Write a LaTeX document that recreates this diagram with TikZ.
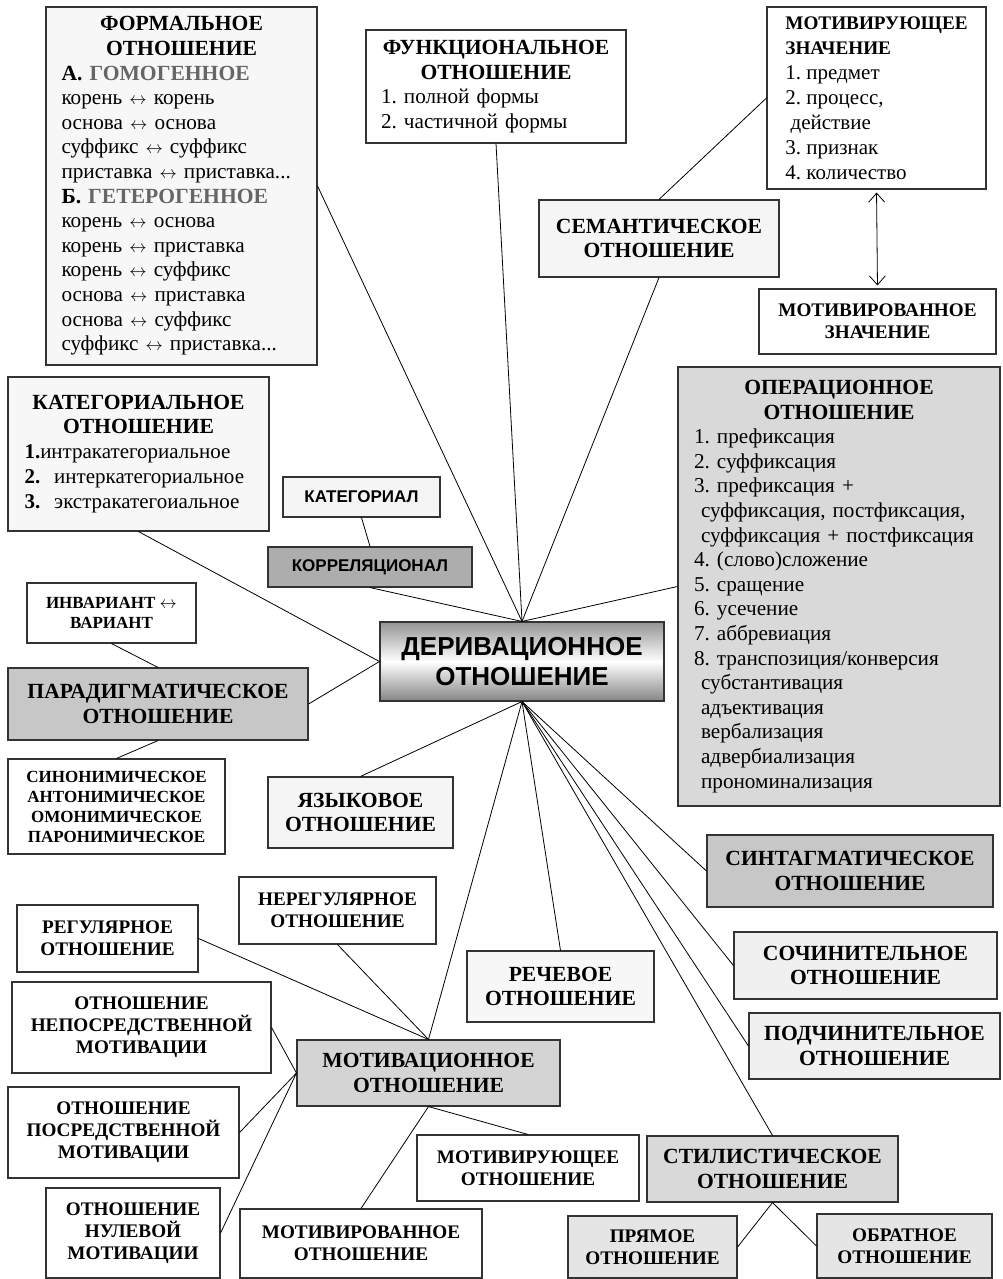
\documentclass[tikz,border=0pt]{standalone}
\usepackage{fontspec}
\setmainfont{Liberation Serif}
\setsansfont{Liberation Sans}
\usepackage{tikz}
\usetikzlibrary{arrows.meta}
\usetikzlibrary{positioning}

\newcommand{\bigh}{\fontsize{21.6}{24.6}\selectfont\bfseries}
\newcommand{\smallh}{\fontsize{19.2}{22}\selectfont\bfseries}
\newcommand{\tinyh}{\fontsize{17}{20}\selectfont\bfseries}
\newcommand{\itemtxt}{\fontsize{21.2}{24.6}\selectfont}
\newcommand{\grayh}[1]{\textcolor{black!60}{#1}}
\newcommand{\lra}{{\fontsize{17.28}{17.28}\selectfont$\leftrightarrow$}}
\frenchspacing

\begin{document}
\begin{tikzpicture}[x=1pt, y=-1pt,
    rel/.style={draw=black!80, line width=1.1pt, align=center, inner sep=0pt},
    list/.style={rel, align=left},
    link/.style={black, line width=0.8pt}]
    \useasboundingbox (0,0) rectangle (1002,1279);

    % Central node
    \node[rel, top color=black!42, bottom color=black!48, middle color=white, minimum width=284pt, minimum height=79pt, font={\sffamily\bfseries\fontsize{26}{30}\selectfont}] (deriv) at (522,661.5) {ДЕРИВАЦИОННОЕ\\ОТНОШЕНИЕ};

    % Upper part
    \node[list, fill=black!3, minimum width=271pt, minimum height=358pt, text width=240pt, font=\itemtxt] (formal) at (181.5,186) {%
        {\centering\bigh ФОРМАЛЬНОЕ\par ОТНОШЕНИЕ\par}
        {\bigh А. \grayh{ГОМОГЕННОЕ}\par}
        корень \lra{} корень\par
        основа \lra{} основа\par
        суффикс \lra{} суффикс\par
        приставка \lra{} приставка...\par
        {\bigh Б. \grayh{ГЕТЕРОГЕННОЕ}\par}
        корень \lra{} основа\par
        корень \lra{} приставка\par
        корень \lra{} суффикс\par
        основа \lra{} приставка\par
        основа \lra{} суффикс\par
        суффикс \lra{} приставка...};
    \node[list, fill=white, minimum width=260pt, minimum height=113pt, text width=230pt, font=\itemtxt] (func) at (496,86.5) {%
        {\centering\bigh ФУНКЦИОНАЛЬНОЕ\par ОТНОШЕНИЕ\par}
        1. полной формы\par
        2. частичной формы};
    \node[list, fill=white, minimum width=219pt, minimum height=182pt, font={\fontsize{21}{25}\selectfont}] (motvaz) at (876.5,98) {%
        {\smallh МОТИВИРУЮЩЕЕ}\\
        {\smallh ЗНАЧЕНИЕ}\\
        1. предмет\\
        2. процесс,\\
        \ действие\\
        3. признак\\
        4. количество};
    \node[rel, fill=black!4, minimum width=240pt, minimum height=77pt, font=\bigh] (sem) at (659,238.5) {СЕМАНТИЧЕСКОЕ\\ОТНОШЕНИЕ};
    \node[rel, fill=white, minimum width=237pt, minimum height=65pt, font=\smallh] (motvdm) at (877.5,321.5) {МОТИВИРОВАННОЕ\\ЗНАЧЕНИЕ};
    \draw[{Straight Barb[length=9pt,width=16pt]}-{Straight Barb[length=9pt,width=16pt]}, line width=0.8pt, shorten <=3pt, shorten >=3pt] (motvaz.south) -- (motvdm.north);
    \node[list, fill=black!15, minimum width=322pt, minimum height=439pt, text width=290pt, font=\itemtxt] (oper) at (839,586.5) {%
        {\centering\bigh ОПЕРАЦИОННОЕ\par ОТНОШЕНИЕ\par}
        1. префиксация\par
        2. суффиксация\par
        3. префиксация +\par
        \ суффиксация, постфиксация,\par
        \ суффиксация + постфиксация\par
        4. (слово)сложение\par
        5. сращение\par
        6. усечение\par
        7. аббревиация\par
        8. транспозиция/конверсия\par
        \ субстантивация\par
        \ адъективация\par
        \ вербализация\par
        \ адвербиализация\par
        \ прономинализация};

    % Left part
    \node[list, fill=black!3, minimum width=261pt, minimum height=154pt, text width=228pt, font={\fontsize{21}{25}\selectfont}] (categ) at (138.5,454) {%
        {\centering\bigh КАТЕГОРИАЛЬНОЕ\par ОТНОШЕНИЕ\par}
        \textbf{1.}интракатегориальное\par
        \textbf{2.} \ интеркатегориальное\par
        \textbf{3.} \ экстракатегоиальное};
    \node[rel, fill=black!4, minimum width=157pt, minimum height=40pt, font={\sffamily\bfseries\fontsize{17}{20}\selectfont}] (kategorial) at (361.5,497) {КАТЕГОРИАЛ};
    \node[rel, fill=black!32, minimum width=204pt, minimum height=40pt, font={\sffamily\bfseries\fontsize{17}{20}\selectfont}] (korrel) at (370,567) {КОРРЕЛЯЦИОНАЛ};
    \node[rel, fill=white, minimum width=169pt, minimum height=60pt, font=\tinyh] (invar) at (111.5,613) {ИНВАРИАНТ \lra\\ВАРИАНТ};
    \node[rel, fill=black!22, minimum width=300pt, minimum height=72pt, font=\bigh] (parad) at (158,704) {ПАРАДИГМАТИЧЕСКОЕ\\ОТНОШЕНИЕ};
    \node[rel, fill=white, minimum width=217pt, minimum height=95pt, font=\tinyh] (synon) at (116.5,806.5) {СИНОНИМИЧЕСКОЕ\\АНТОНИМИЧЕСКОЕ\\ОМОНИМИЧЕСКОЕ\\ПАРОНИМИЧЕСКОЕ};
    \node[rel, fill=black!4, minimum width=185pt, minimum height=71pt, font=\bigh] (yaz) at (360.5,812.5) {ЯЗЫКОВОЕ\\ОТНОШЕНИЕ};

    % Lower part
    \node[rel, fill=white, minimum width=197pt, minimum height=67pt, font=\smallh] (nereg) at (337.5,910.5) {НЕРЕГУЛЯРНОЕ\\ОТНОШЕНИЕ};
    \node[rel, fill=white, minimum width=181pt, minimum height=67pt, font=\smallh] (reg) at (107.5,938.5) {РЕГУЛЯРНОЕ\\ОТНОШЕНИЕ};
    \node[rel, fill=white, minimum width=259pt, minimum height=91pt, font=\smallh] (neposr) at (141.5,1027.5) {ОТНОШЕНИЕ\\НЕПОСРЕДСТВЕННОЙ\\МОТИВАЦИИ};
    \node[rel, fill=white, minimum width=231pt, minimum height=91pt, font=\smallh] (posr) at (123.5,1132.5) {ОТНОШЕНИЕ\\ПОСРЕДСТВЕННОЙ\\МОТИВАЦИИ};
    \node[rel, fill=white, minimum width=174pt, minimum height=90pt, font=\smallh] (nul) at (133,1233) {ОТНОШЕНИЕ\\НУЛЕВОЙ\\МОТИВАЦИИ};
    \node[rel, fill=black!17, minimum width=263pt, minimum height=66pt, font=\bigh] (motiv) at (428.5,1073) {МОТИВАЦИОННОЕ\\ОТНОШЕНИЕ};
    \node[rel, fill=white, minimum width=242pt, minimum height=69pt, font=\smallh] (motvdrel) at (361,1243.5) {МОТИВИРОВАННОЕ\\ОТНОШЕНИЕ};
    \node[rel, fill=white, minimum width=222pt, minimum height=66pt, font=\smallh] (motvrel) at (528,1168) {МОТИВИРУЮЩЕЕ\\ОТНОШЕНИЕ};
    \node[rel, fill=black!3, minimum width=187pt, minimum height=71pt, font=\bigh] (rech) at (560.5,986.5) {РЕЧЕВОЕ\\ОТНОШЕНИЕ};

    % Right lower part
    \node[rel, fill=black!22, minimum width=286pt, minimum height=72pt, font=\bigh] (sint) at (850,871) {СИНТАГМАТИЧЕСКОЕ\\ОТНОШЕНИЕ};
    \node[rel, fill=black!6, minimum width=263pt, minimum height=67pt, font=\bigh] (soch) at (865.5,965.5) {СОЧИНИТЕЛЬНОЕ\\ОТНОШЕНИЕ};
    \node[rel, fill=black!6, minimum width=251pt, minimum height=66pt, font=\bigh] (podch) at (874.5,1046) {ПОДЧИНИТЕЛЬНОЕ\\ОТНОШЕНИЕ};
    \node[rel, fill=black!15, minimum width=251pt, minimum height=66pt, font=\bigh] (stil) at (772.5,1169) {СТИЛИСТИЧЕСКОЕ\\ОТНОШЕНИЕ};
    \node[rel, fill=black!10, minimum width=169pt, minimum height=62pt, font=\smallh] (pryam) at (652.5,1247) {ПРЯМОЕ\\ОТНОШЕНИЕ};
    \node[rel, fill=black!10, minimum width=175pt, minimum height=64pt, font=\smallh] (obr) at (904.5,1246) {ОБРАТНОЕ\\ОТНОШЕНИЕ};

    % Links to the central node
    \draw[link] (formal.east) -- (deriv.north);
    \draw[link] (func.south) -- (deriv.north);
    \draw[link] (sem.south) -- (deriv.north);
    \draw[link] (korrel.south) -- (deriv.north);
    \draw[link] (oper.west) -- (deriv.north);
    \draw[link] (categ.south) -- (deriv.west);
    \draw[link] (parad.east) -- (deriv.west);
    \draw[link] (yaz.north) -- (deriv.south);
    \draw[link] (motiv.north) -- (deriv.south);
    \draw[link] (rech.north) -- (deriv.south);
    \draw[link] (stil.north) -- (deriv.south);
    \draw[link] (podch.west) -- (deriv.south);
    \draw[link] (soch.west) -- (deriv.south);
    \draw[link] (sint.west) -- (deriv.south);

    % Other links
    \draw[link] (motvaz.west) -- (sem.north);
    \draw[link] (kategorial.south) -- (korrel.north);
    \draw[link] (invar.south) -- (parad.north);
    \draw[link] (parad.south) -- (synon.north);
    \draw[link] (reg.east) -- (motiv.north);
    \draw[link] (nereg.south) -- (motiv.north);
    \draw[link] (neposr.east) -- (motiv.west);
    \draw[link] (posr.east) -- (motiv.west);
    \draw[link] (nul.east) -- (motiv.west);
    \draw[link] (motvdrel.north) -- (motiv.south);
    \draw[link] (motiv.south) -- (motvrel.north);
    \draw[link] (stil.south) -- (pryam.east);
    \draw[link] (stil.south) -- (obr.west);
\end{tikzpicture}
\end{document}
